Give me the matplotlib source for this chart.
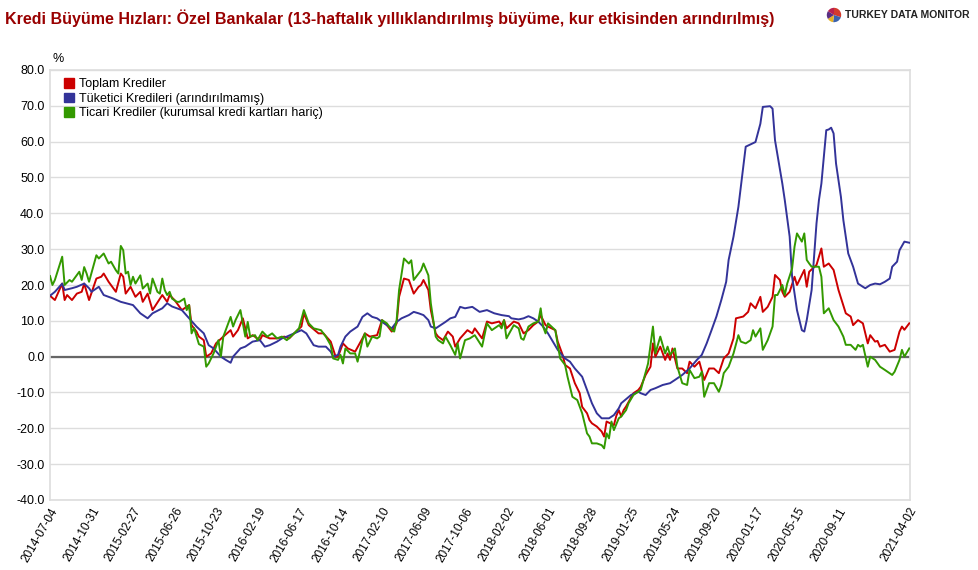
import numpy as np
import pandas as pd
import matplotlib.pyplot as plt
from matplotlib.patches import Patch

plt.rcParams['font.family'] = ['Liberation Sans', 'DejaVu Sans']

# haftalık veri: 2014-07-04'ten itibaren hafta numarası + değer (%)
start = pd.Timestamp('2014-07-04')

toplam_wk = [0, 2, 5, 6, 7, 9, 11, 13, 14, 16, 19, 21, 22, 24, 27, 29, 30, 31, 33, 35, 37, 38, 40, 42,
             46, 48, 49, 51, 52, 54, 57, 58, 60, 61, 63, 64, 66, 68, 71, 74, 75, 77, 79, 81, 83, 86, 87,
             90, 93, 96, 98, 100, 103, 104, 106, 110, 112, 115, 117, 118, 120, 122, 125, 128, 129, 131,
             134, 136, 138, 140, 142, 143, 145, 147, 149, 151, 152, 153, 155, 156, 158, 159, 161, 163,
             165, 166, 168, 171, 173, 174, 177, 179, 181, 184, 185, 186, 187, 190, 192, 194, 196, 198,
             200, 201, 203, 204, 207, 208, 210, 211, 213, 215, 217, 218, 220, 221, 222, 224, 226, 227,
             228, 231, 232, 233, 234, 235, 236, 239, 241, 242, 244, 246, 247, 248, 250, 252, 253, 254,
             255, 257, 259, 261, 262, 264, 266, 268, 270, 272, 274, 276, 278, 280, 281, 284, 286, 287,
             289, 291, 292, 294, 296, 297, 299, 300, 301, 303, 305, 306, 309, 310, 311, 314, 315, 316,
             317, 319, 321, 323, 326, 328, 329, 331, 333, 335, 336, 338, 339, 340, 342, 344, 346, 348,
             349, 350, 352]
toplam = [17, 15.8, 20.4, 15.8, 17.2, 15.8, 17.6, 18.1, 20.4, 15.8, 21.8, 22.3, 23.2, 20.9, 18.1, 23.2,
          22.3, 17.6, 19.5, 16.7, 18.1, 15.3, 17.6, 13, 17.2, 15.3, 17.2, 15.8, 14.9, 13, 14.4, 8.8, 7,
          5.6, 4.6, 0, 0.9, 3.7, 5.6, 7.4, 5.6, 7.4, 10.7, 5.1, 6, 4.6, 6, 5.1, 5.1, 5.6, 5.1, 6.5, 8.4,
          12.1, 8.8, 6.5, 6.5, 4.2, 0, 0, 3.7, 2.3, 1.4, 5.1, 6.5, 5.6, 6, 10.2, 8.8, 7, 9.3, 16.7, 21.8,
          21.4, 17.6, 19.5, 20, 21.4, 18.6, 13, 6.5, 5.6, 4.6, 7, 5.6, 2.8, 5.1, 7.4, 6.5, 7.9, 5.1, 9.8,
          9.3, 9.8, 8.8, 10.2, 7.9, 9.8, 9.3, 6.5, 7.4, 8.8, 9.8, 11.6, 8.8, 8.4, 7.4, 4.2, 0.5, -2.3,
          -3.3, -7.4, -10.2, -14, -15.8, -17.7, -18.6, -19.5, -20.9, -22.3, -18.1, -19.1, -16.5, -14.9,
          -16.7, -14.9, -13.9, -10.2, -9.3, -8.4, -5.1, -2.8, 3.7, 0, 2.8, -0.9, 0.9, -0.9, 2.3, -3.3,
          -3.3, -4.6, -1.4, -2.8, -1.4, -6.5, -3.3, -3.3, -4.6, -0.5, 0.9, 5.1, 10.7, 11.2, 12.5, 14.9,
          13.5, 16.7, 12.5, 13.9, 16.7, 22.8, 21.4, 18.1, 16.7, 18.1, 22.3, 20, 24.2, 19.5, 23.7, 25.6,
          27.9, 30.2, 25.1, 26, 24.2, 18.6, 12.1, 11.2, 8.8, 10.2, 9.3, 3.7, 6, 4.2, 4.4, 2.8, 3.3, 1.4,
          1.9, 7, 8.4, 7.5, 9.3]

tuketici_wk = [0, 2, 5, 6, 9, 11, 14, 16, 17, 20, 22, 26, 29, 34, 37, 40, 42, 46, 48, 50, 54, 57, 60,
               63, 65, 67, 70, 72, 74, 75, 78, 80, 83, 86, 88, 90, 93, 95, 97, 100, 103, 105, 108, 110,
               113, 115, 116, 118, 119, 121, 123, 126, 128, 130, 132, 134, 136, 138, 140, 142, 144, 147,
               149, 151, 153, 155, 156, 158, 160, 162, 164, 166, 168, 170, 173, 176, 179, 182, 185, 188,
               189, 192, 194, 196, 198, 200, 202, 204, 206, 208, 211, 213, 215, 218, 220, 222, 224, 226,
               229, 231, 233, 234, 238, 241, 242, 244, 246, 248, 251, 254, 256, 259, 262, 265, 267, 269,
               271, 273, 275, 277, 278, 280, 282, 284, 285, 289, 291, 292, 295, 296, 297, 300, 301, 303,
               304, 306, 308, 309, 310, 312, 313, 314, 315, 316, 317, 318, 319, 320, 321, 322, 324, 325,
               326, 327, 329, 331, 333, 334, 336, 338, 340, 342, 344, 345, 347, 348, 350, 352]
tuketici = [17, 18.1, 20.4, 18.6, 19.1, 19.5, 20.4, 19.1, 18.1, 19.5, 17.2, 16.2, 15.3, 14.4, 12.1, 10.7,
            12.1, 13.5, 14.9, 14, 13, 10.7, 8.4, 6.5, 3.2, 2.3, 0, -0.9, -1.7, 0, 2.3, 2.8, 4.2, 4.6, 2.8,
            3.2, 4.2, 5.1, 5.6, 6.5, 7.4, 6.5, 3.2, 2.8, 2.8, 1.4, 0, 0.5, 2.8, 5.6, 7, 8.4, 11.1, 12.1,
            11.1, 10.7, 9.7, 8.8, 7.9, 9.7, 10.7, 11.6, 12.5, 12.1, 11.6, 10.2, 8.4, 7.9, 8.8, 9.7, 10.7,
            11.1, 13.9, 13.5, 13.9, 12.5, 13, 12.1, 11.6, 11.3, 10.7, 10.4, 10.7, 11.3, 10.7, 9.8, 8.4,
            6.5, 4.2, 1.9, -0.5, -1.4, -3.3, -5.6, -9.3, -13, -15.8, -17.2, -17.2, -16.3, -14.4, -13,
            -10.7, -9.8, -10.2, -10.7, -9.3, -8.8, -7.9, -7.4, -6.5, -5.1, -3.3, -0.9, 0.5, 3.7, 7.4, 11.2,
            15.8, 20.9, 27, 33.5, 41.8, 53, 58.6, 59.9, 65, 69.7, 69.9, 69.2, 60.4, 48.3, 43.7, 33.5, 22.3,
            13, 7.4, 7, 10.2, 18.6, 27.9, 37.2, 43.7, 48.3, 55.8, 63.2, 63.4, 63.9, 62.3, 53.9, 44.6, 38.1,
            33.5, 28.8, 25.1, 20.4, 19.5, 19.1, 20, 20.4, 20.2, 20.9, 21.8, 25.1, 26.5, 29.7, 32.1, 31.8]

ticari_wk = [0, 1, 2, 5, 6, 8, 9, 12, 13, 14, 15, 16, 19, 20, 22, 24, 25, 27, 28, 29, 30, 31, 32, 33, 34,
             35, 37, 38, 40, 41, 42, 43, 44, 45, 46, 47, 48, 49, 50, 52, 53, 55, 56, 57, 58, 59, 61, 63,
             64, 65, 67, 69, 70, 71, 74, 75, 76, 78, 80, 81, 82, 84, 85, 87, 89, 91, 93, 95, 97, 100, 102,
             104, 106, 108, 111, 113, 115, 116, 118, 119, 120, 121, 123, 125, 126, 128, 129, 130, 132,
             134, 135, 136, 138, 140, 141, 142, 143, 145, 147, 148, 149, 151, 152, 153, 155, 156, 158,
             159, 161, 162, 164, 166, 167, 168, 170, 172, 174, 177, 179, 181, 184, 185, 186, 187, 190,
             192, 193, 194, 196, 198, 200, 201, 202, 203, 204, 207, 208, 209, 211, 212, 214, 216, 218,
             220, 221, 222, 224, 226, 227, 228, 229, 230, 231, 233, 234, 236, 237, 239, 242, 245, 247,
             248, 250, 252, 253, 254, 256, 257, 259, 261, 262, 264, 266, 267, 268, 270, 272, 274, 275,
             276, 278, 280, 282, 283, 285, 287, 288, 289, 291, 292, 294, 296, 297, 298, 300, 301, 302,
             304, 305, 306, 308, 309, 310, 311, 312, 315, 316, 317, 319, 321, 323, 325, 326, 328, 330,
             331, 332, 333, 335, 336, 338, 340, 342, 345, 346, 348, 349, 350, 352]
ticari = [22.5, 20, 21.4, 27.9, 20, 21.4, 20.9, 23.7, 21.4, 25, 23.2, 20.9, 28.3, 27.4, 28.8, 26, 26.5,
          24.1, 23.2, 30.9, 29.7, 23.2, 23.7, 20, 22.3, 20.4, 22.7, 19, 20.4, 17.6, 21.8, 20, 18.1, 17.6,
          21.8, 18.6, 17.2, 18.1, 16.2, 15.3, 15.3, 16.2, 13, 14.4, 6.5, 8, 3.5, 2.8, -2.8, -1.9, 0.9,
          4.6, 0, 5.6, 11.1, 8.4, 10.2, 13, 5.6, 9.7, 5.6, 6, 4.6, 7, 5.6, 6.5, 5.1, 5.6, 4.6, 6.5, 7.9,
          13, 9.3, 7.9, 7.4, 5.6, 3.2, -0.5, -0.9, 0.5, -1.9, 2.3, 0.9, 0.9, -1.4, 4.6, 6.5, 2.8, 5.6,
          5.1, 5.6, 10.2, 9.3, 7.4, 7, 10.2, 18.6, 27.4, 26, 26.9, 21.4, 23.2, 24.1, 26, 22.7, 14.9, 5.6,
          4.6, 3.7, 5.6, 3.2, 0.5, 3.7, -0.5, 4.6, 5.1, 6, 2.8, 9.3, 7.4, 8.8, 7.9, 10.2, 5.1, 8.8, 7.9,
          5.1, 4.7, 8.4, 9.3, 9.8, 13.5, 8.4, 6.5, 9.3, 7.4, 3.3, -0.5, -2.3, -5.6, -11.2, -12.1, -15.8,
          -21.4, -22.3, -24.2, -24.2, -24.7, -25.6, -21.4, -22.8, -18.1, -20.5, -17.2, -16.7, -14.9, -13,
          -10.7, -9.3, -1.9, 8.4, 0.9, 5.6, 0.9, 2.8, 0.5, 2.3, -2.8, -7.4, -7.9, -3.7, -6, -5.6, -4.2,
          -11.2, -7.4, -7.4, -9.8, -7.9, -4.6, -2.8, 0.9, 6, 4.2, 3.7, 4.6, 7.4, 5.6, 7.9, 1.9, 4.6, 8.4,
          17.2, 17.2, 20, 17.2, 20.4, 24.6, 30.7, 34.4, 32.1, 34.4, 27, 26, 25.1, 25.1, 22.3, 12.1, 13.5,
          10.2, 8.4, 5.6, 3.3, 3.3, 1.9, 3.3, 2.8, 3.3, -2.8, 0, -0.9, -2.8, -3.7, -5.1, -4.2, -0.9, 1.9,
          0, 2.3]

tick_wk = [0, 17, 34, 51, 68, 85, 102, 119, 136, 153, 170, 187, 204, 221, 238, 255, 272, 289, 306, 323, 352]

labels = ['Toplam Krediler', 'Tüketici Kredileri (arındırılmamış)', 'Ticari Krediler (kurumsal kredi kartları hariç)']
colors = ['#CC0000', '#333399', '#339900']
series = [(toplam_wk, toplam), (tuketici_wk, tuketici), (ticari_wk, ticari)]


def wk_to_date(wk):
    return start + pd.to_timedelta(np.array(wk) * 7, unit='D')


fig = plt.figure(figsize=(9.79, 5.70), dpi=100)
ax = fig.add_axes([50 / 979, 1 - 500 / 570, 860 / 979, 430 / 570])

ax.axhline(0, color='#666666', lw=1.6, zorder=2)
for (wk, vals), col in zip(series, colors):
    ax.plot(wk_to_date(wk), vals, color=col, lw=1.4, zorder=3)

ax.set_ylim(-40, 80)
ax.set_yticks(np.arange(-40, 81, 10))
ax.set_yticklabels([f'{v:.1f}' for v in np.arange(-40, 81, 10)], fontsize=9)
ax.set_xlim(start, wk_to_date([352.3])[0])
tick_dates = wk_to_date(tick_wk)
ax.set_xticks(tick_dates)
ax.set_xticklabels([d.strftime('%Y-%m-%d') for d in tick_dates], rotation=60, ha='right',
                   rotation_mode='anchor', fontsize=8.5)
ax.tick_params(length=0, pad=4)
ax.grid(axis='y', color='#dddddd', lw=1)
ax.set_axisbelow(True)
for s in ax.spines.values():
    s.set_color('#dddddd')
    s.set_linewidth(1.2)

ax.text(0.003, 1.012, '%', transform=ax.transAxes, fontsize=9, va='bottom', ha='left')

handles = [Patch(color=c) for c in colors]
ax.legend(handles, labels, loc='upper left', bbox_to_anchor=(0.01, 0.993), frameon=False, fontsize=9,
          handlelength=0.8, handleheight=0.8, handletextpad=0.4, labelspacing=0.2, borderaxespad=0)

fig.text(5 / 979, 1 - 18 / 570, 'Kredi Büyüme Hızları: Özel Bankalar (13-haftalık yıllıklandırılmış büyüme, '
         'kur etkisinden arındırılmış)', fontweight='bold', fontsize=11.5, color='#990000',
         va='center', ha='left')

# logo
lax = fig.add_axes([825 / 979, 1 - 24 / 570, 18 / 979, 18 / 570])
lax.pie([30, 22, 14, 18, 16], colors=['#d33a2c', '#3b62ad', '#e6b123', '#5a2d82', '#b8204f'],
        startangle=90, counterclock=False)
lax.set_aspect('equal')
fig.text(970 / 979, 1 - 15 / 570, 'TURKEY DATA MONITOR', fontweight='bold', fontsize=7.5,
         color='#222222', va='center', ha='right')

fig.savefig('out.png', dpi=100)
